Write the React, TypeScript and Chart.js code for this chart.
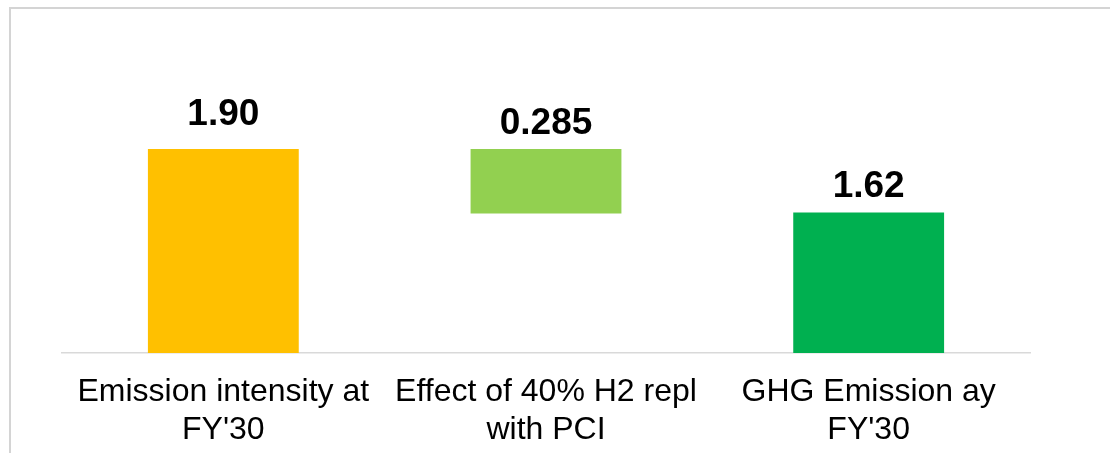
import React, { useEffect, useRef } from "react";
import { Chart, registerables } from "chart.js";

Chart.register(...registerables);

const categories: string[][] = [
  ["Emission intensity at", "FY'30"],
  ["Effect of 40% H2 repl", "with PCI"],
  ["GHG Emission ay", "FY'30"],
];
const startValue = 1.9;
const h2Effect = 0.285;
const endValue = 1.62;
const valueLabels = ["1.90", "0.285", "1.62"];
const barColors = ["#FFC000", "#92D050", "#00B050"];
const labelGaps = [24, 15, 15];

const FONT = "'Liberation Sans', Arial, sans-serif";

const valueLabelPlugin = {
  id: "valueLabels",
  afterDatasetsDraw(chart: any) {
    const ctx = chart.ctx;
    const meta = chart.getDatasetMeta(0);
    ctx.save();
    ctx.font = `bold 37px ${FONT}`;
    ctx.fillStyle = "#000000";
    ctx.textAlign = "center";
    ctx.textBaseline = "alphabetic";
    meta.data.forEach((el: any, i: number) => {
      ctx.fillText(valueLabels[i], el.x, el.y - labelGaps[i]);
    });
    ctx.restore();
  },
};

export default function App() {
  const ref = useRef<HTMLCanvasElement | null>(null);
  useEffect(() => {
    document.body.style.margin = "0";
    const data: [number, number][] = [
      [0, startValue],
      [startValue - h2Effect, startValue],
      [0, endValue],
    ];
    const chart = new Chart(ref.current as HTMLCanvasElement, {
      type: "bar",
      data: {
        labels: categories,
        datasets: [
          {
            data: data as any,
            backgroundColor: barColors,
            borderWidth: 0,
            categoryPercentage: 1,
            barPercentage: 0.4675,
          },
        ],
      },
      options: {
        animation: false,
        responsive: false,
        devicePixelRatio: 1,
        layout: { padding: { left: 62, right: 80, top: 81, bottom: -16 } },
        plugins: { legend: { display: false }, tooltip: { enabled: false } },
        scales: {
          y: { display: false, min: 1, max: 2.2 },
          x: {
            grid: { display: false, drawTicks: false },
            border: { display: true, color: "#d9d9d9", width: 1.5 },
            ticks: {
              color: "#000000",
              padding: 20,
              maxRotation: 0,
              autoSkip: false,
              font: { family: FONT, size: 32, lineHeight: 38 / 32 },
            },
          },
        },
      },
      plugins: [valueLabelPlugin],
    });
    return () => chart.destroy();
  }, []);
  return (
    <div style={{ position: "relative", width: 1110, height: 453, overflow: "hidden", background: "#fff" }}>
      <canvas ref={ref} width={1110} height={453} style={{ display: "block" }} />
      <div
        style={{
          position: "absolute",
          left: 9,
          top: 7,
          right: -10,
          bottom: -10,
          borderTop: "2px solid #d4d4d4",
          borderLeft: "2px solid #d4d4d4",
          pointerEvents: "none",
        }}
      />
    </div>
  );
}
